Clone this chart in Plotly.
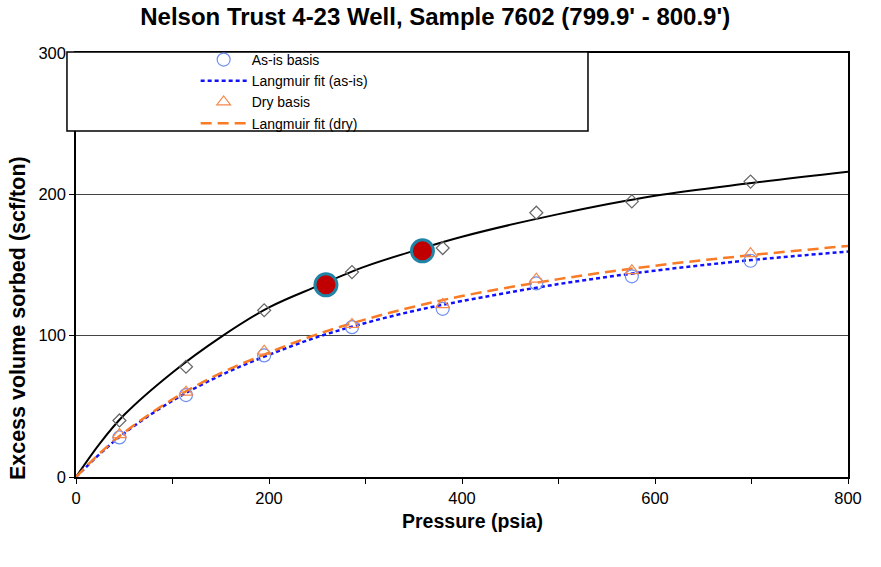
import plotly.graph_objects as go

# Measured isotherm points (pressure in psia, excess sorbed volume in scf/ton)
pressure = [45, 114, 195, 286, 380, 477, 576, 699]
reference_vol = [40, 78, 118, 145, 162, 187, 195, 209]
asis_vol = [28, 58, 86, 106, 119, 137, 142, 153]
dry_vol = [30, 60, 89, 108, 122, 140, 146, 158]

# Highlighted points on the reference isotherm
highlight_p = [259, 359]
highlight_vol = [136, 160]

# Fitted isotherm curves, sampled along pressure
fit_p = [0, 25, 50, 100, 150, 200, 250, 300, 350, 400, 500, 600, 700, 800]
fit_reference = [0, 24, 44, 74, 99, 120, 135, 149, 160, 170, 186, 199, 208, 216]
fit_asis = [0, 16.5, 31, 54, 72, 86.5, 99, 109, 117.5, 124.5, 136.5, 146, 153.5, 159.5]
fit_dry = [0, 17, 31.5, 55, 73.5, 88, 101, 111.5, 120.5, 128, 140, 149.5, 157, 163.5]

x_ticks = [0, 100, 200, 300, 400, 500, 600, 700, 800]
x_ticktext = ["0", "", "200", "", "400", "", "600", "", "800"]
y_ticks = [0, 100, 200, 300]

FONT = "Liberation Sans, Arial, sans-serif"

fig = go.Figure()

fig.add_trace(go.Scatter(
    x=fit_p, y=fit_reference, mode="lines", line=dict(color="black", width=2, shape="spline"),
    showlegend=False, hoverinfo="skip"))
fig.add_trace(go.Scatter(
    x=fit_p, y=fit_asis, mode="lines", name="Langmuir fit (as-is)", legendrank=2,
    line=dict(color="#1010ff", width=2.5, dash="4px,3px", shape="spline")))
fig.add_trace(go.Scatter(
    x=fit_p, y=fit_dry, mode="lines", name="Langmuir fit (dry)", legendrank=4,
    line=dict(color="#f97b25", width=2.5, dash="11px,6px", shape="spline")))

fig.add_trace(go.Scatter(
    x=pressure, y=reference_vol, mode="markers", showlegend=False,
    marker=dict(symbol="diamond-open", size=10, color="#666666", line=dict(width=1.2))))
fig.add_trace(go.Scatter(
    x=pressure, y=asis_vol, mode="markers", name="As-is basis", legendrank=1,
    marker=dict(symbol="circle-open", size=13, color="#6d8ef2", line=dict(width=1.2))))
fig.add_trace(go.Scatter(
    x=pressure, y=dry_vol, mode="markers", name="Dry basis", legendrank=3,
    marker=dict(symbol="triangle-up-open", size=12, color="#f5884c", line=dict(width=1.2))))
fig.add_trace(go.Scatter(
    x=highlight_p, y=highlight_vol, mode="markers", showlegend=False,
    marker=dict(symbol="circle", size=22, color="#c00000",
                line=dict(color="#1f84a6", width=3))))

# Legend frame
fig.add_shape(type="rect", xref="paper", yref="paper",
              x0=-0.0117, x1=0.6632, y0=0.816, y1=1.0024,
              fillcolor="white", line=dict(color="black", width=1.5), layer="above")

# Axis titles
fig.add_annotation(text="<b>Excess volume sorbed (scf/ton)</b>", xref="paper", yref="paper",
                   x=-0.075, y=0.375, xanchor="center", yanchor="middle", textangle=-90,
                   showarrow=False, font=dict(family=FONT, size=21.5, color="black"))
fig.add_annotation(text="<b>Pressure (psia)</b>", xref="paper", yref="paper",
                   x=0.514, y=-0.104, xanchor="center", yanchor="middle",
                   showarrow=False, font=dict(family=FONT, size=19.5, color="black"))

fig.update_layout(
    width=881, height=567,
    margin=dict(l=76, r=33, t=53, b=90),
    paper_bgcolor="white", plot_bgcolor="white",
    font=dict(family=FONT, color="black"),
    title=dict(text="<b>Nelson Trust 4-23 Well, Sample 7602 (799.9' - 800.9')</b>",
               x=0.494, xanchor="center", y=1 - 17 / 567, yanchor="middle", yref="container",
               font=dict(family=FONT, size=24, color="black")),
    showlegend=True,
    legend=dict(x=0.155, y=1.0213, xanchor="left", yanchor="top", bgcolor="rgba(0,0,0,0)",
                borderwidth=0, itemwidth=46, font=dict(family=FONT, size=14, color="black"),
                traceorder="normal"),
    xaxis=dict(range=[0, 800], tickvals=x_ticks, ticktext=x_ticktext, ticks="outside",
               ticklen=5, tickcolor="black", showline=True, linecolor="black", linewidth=1.5,
               mirror=True, showgrid=False, zeroline=False,
               tickfont=dict(family=FONT, size=16.5, color="black")),
    yaxis=dict(range=[0, 300], tickvals=y_ticks, ticks="outside", ticklen=5, tickcolor="black",
               showline=True, linecolor="black", linewidth=1.5, mirror=True,
               showgrid=True, gridcolor="#444444", gridwidth=1, zeroline=False,
               tickfont=dict(family=FONT, size=16.5, color="black")),
)

fig.write_html("out.html")
